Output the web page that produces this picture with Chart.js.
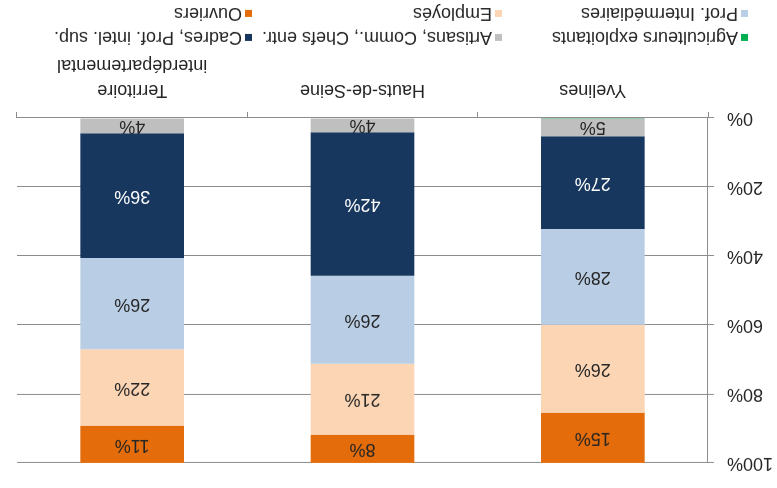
<!DOCTYPE html>
<html>
<head>
<meta charset="utf-8">
<script src="https://cdn.jsdelivr.net/npm/chart.js@4/dist/chart.umd.min.js"></script>
<style>
  html, body { margin: 0; padding: 0; background: #fff; }
  #wrap {
    position: relative;
    width: 777px;
    height: 488px;
    transform: rotate(180deg);
    font-family: "Liberation Sans", Arial, sans-serif;
    color: #262626;
  }
  #chart { position: absolute; left: 0; top: 0; }
  .leg { position: absolute; font-size: 18px; line-height: 20px; white-space: nowrap; }
  .leg i { position: absolute; width: 7px; height: 7px; top: 7px; }
  .leg span { position: absolute; left: 10px; top: 0; }
</style>
</head>
<body>
<div id="wrap">
  <canvas id="chart" width="777" height="488"></canvas>
  <div id="legend"></div>
</div>
<script>
const categories = ["Yvelines", "Hauts-de-Seine", ["Territoire", "interdépartemental"]];
const agriculteurs = [0.1, 0, 0];
const artisans = [5.2, 4.1, 4.4];
const cadres = [26.9, 41.6, 36.2];
const profInter = [27.7, 25.5, 26.4];
const employes = [25.5, 20.6, 22.3];
const ouvriers = [14.6, 8.2, 10.7];
const yTicks = [0, 20, 40, 60, 80, 100];

const textColor = "#262626";
const gridColor = "#8c8c8c";

const datasets = [
  { label: "Agriculteurs exploitants", data: agriculteurs, backgroundColor: "#00b050", labelColor: null },
  { label: "Artisans, Comm., Chefs entr.", data: artisans, backgroundColor: "#bfbfbf", labelColor: textColor },
  { label: "Cadres, Prof. intel. sup.", data: cadres, backgroundColor: "#17375e", labelColor: "#ffffff" },
  { label: "Prof. Intermédiaires", data: profInter, backgroundColor: "#b9cde5", labelColor: textColor },
  { label: "Employés", data: employes, backgroundColor: "#fcd5b5", labelColor: textColor },
  { label: "Ouvriers", data: ouvriers, backgroundColor: "#e46c0a", labelColor: textColor },
];

// value labels in the middle of each slice
const sliceLabels = {
  id: "sliceLabels",
  afterDatasetsDraw(chart) {
    const ctx = chart.ctx;
    ctx.save();
    ctx.font = "18px 'Liberation Sans', Arial, sans-serif";
    ctx.textAlign = "center";
    ctx.textBaseline = "middle";
    chart.data.datasets.forEach((ds, i) => {
      if (!ds.labelColor) return;
      chart.getDatasetMeta(i).data.forEach((bar, j) => {
        const v = ds.data[j];
        if (v < 2) return;
        ctx.fillStyle = ds.labelColor;
        ctx.fillText(Math.round(v) + "%", bar.x, (bar.y + bar.base) / 2);
      });
    });
    ctx.restore();
  },
};

new Chart(document.getElementById("chart"), {
  type: "bar",
  data: {
    labels: categories,
    datasets: datasets.map((d) => ({
      label: d.label,
      data: d.data,
      backgroundColor: d.backgroundColor,
      labelColor: d.labelColor,
      borderWidth: 0,
      categoryPercentage: 1,
      barPercentage: 0.45,
    })),
  },
  options: {
    responsive: false,
    animation: false,
    layout: { padding: { left: 0, right: 17, top: 25, bottom: 0 } },
    plugins: { legend: { display: false }, tooltip: { enabled: false } },
    scales: {
      x: {
        stacked: true,
        grid: { offset: true, drawOnChartArea: false, drawTicks: true, tickLength: 6, color: gridColor },
        border: { color: gridColor },
        ticks: {
          color: textColor,
          padding: 10,
          font: { family: "'Liberation Sans', Arial, sans-serif", size: 18, lineHeight: 1.39 },
        },
        afterFit: (s) => { s.height = 118; },
      },
      y: {
        stacked: true,
        min: 0,
        max: 100,
        afterBuildTicks: (s) => { s.ticks = yTicks.map((v) => ({ value: v })); },
        grid: { color: gridColor, tickLength: 6 },
        border: { color: gridColor },
        ticks: {
          color: textColor,
          padding: 13,
          font: { family: "'Liberation Sans', Arial, sans-serif", size: 18 },
          callback: (v) => v + "%",
        },
        afterFit: (s) => { s.width = 69; },
      },
    },
  },
  plugins: [sliceLabels],
});

// legend laid out in two rows of three columns
const legendCols = [29, 275, 525];
const legendRows = [440, 464];
const legend = document.getElementById("legend");
datasets.forEach((d, i) => {
  const item = document.createElement("div");
  item.className = "leg";
  item.style.left = legendCols[i % 3] + "px";
  item.style.top = legendRows[Math.floor(i / 3)] + "px";
  item.innerHTML = '<i style="background:' + d.backgroundColor + '"></i><span></span>';
  item.querySelector("span").textContent = d.label;
  legend.appendChild(item);
});
</script>
</body>
</html>
